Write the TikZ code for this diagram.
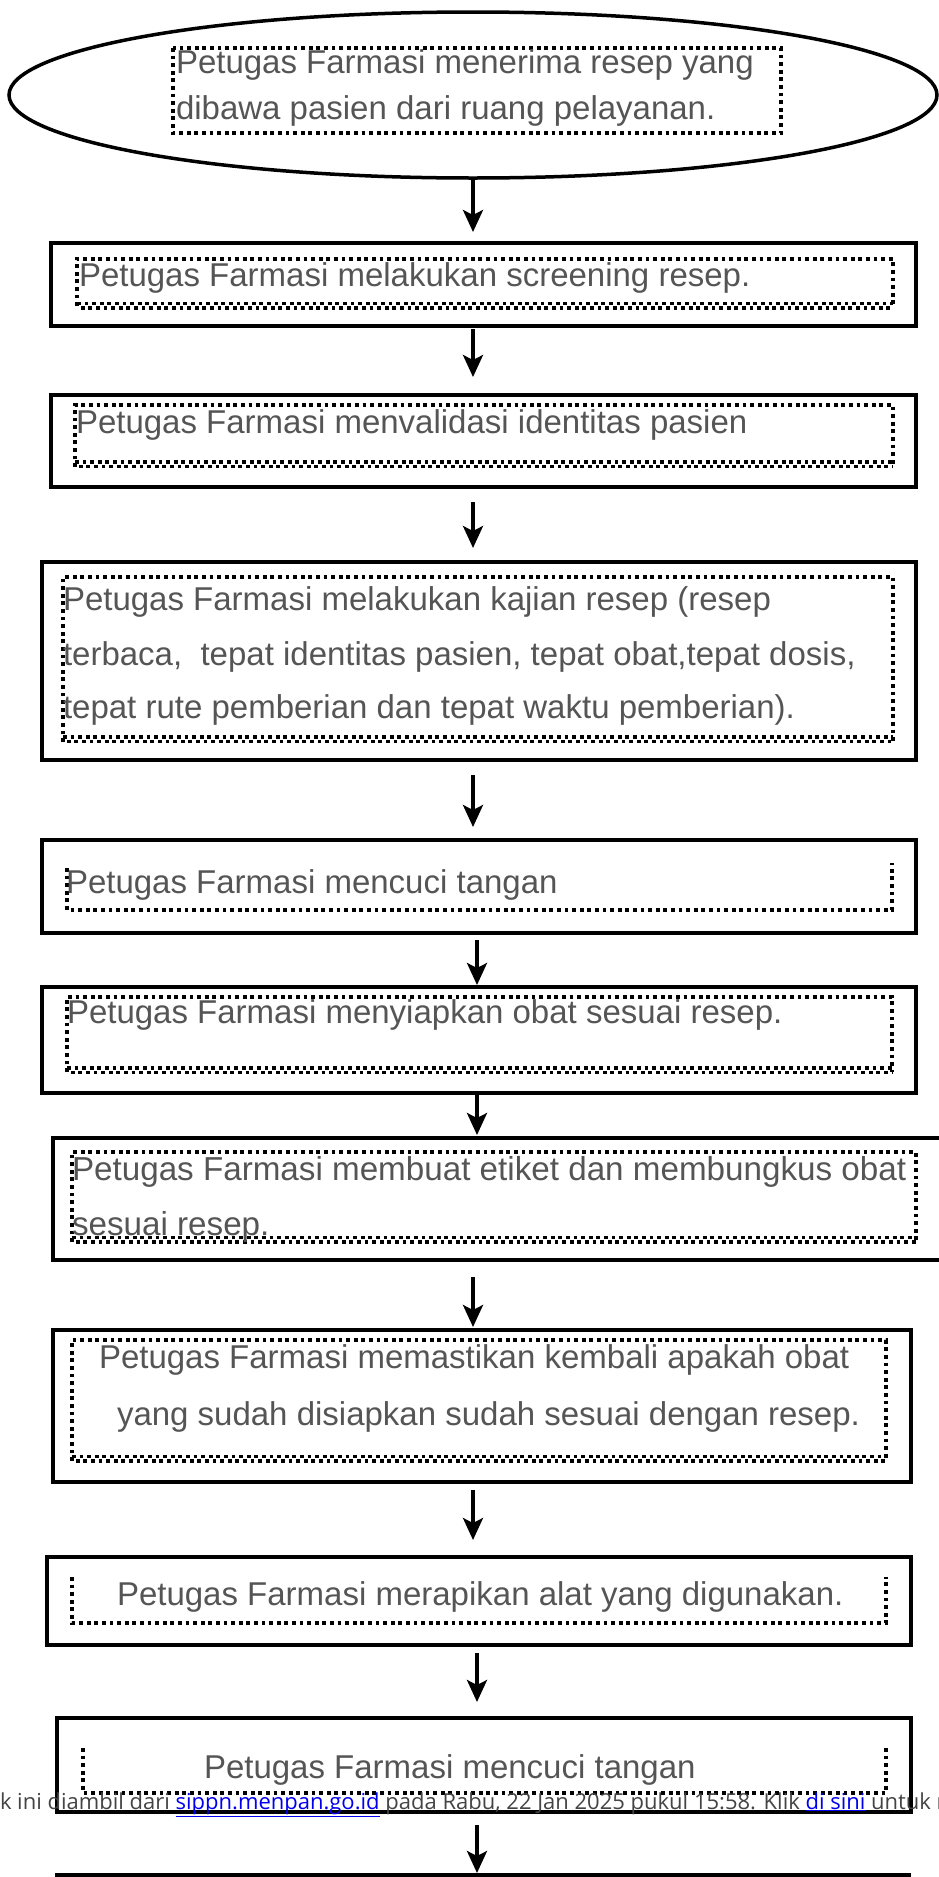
\documentclass[tikz,border=0pt]{standalone}
\usepackage{fontspec}
\setmainfont{Liberation Sans}
\newfontfamily\overlayfont{Open Sans}
\usetikzlibrary{shapes.geometric,arrows.meta}
\definecolor{txtc}{HTML}{555555}
\definecolor{ovl}{HTML}{444444}
\definecolor{lnk}{HTML}{0000EE}
\begin{document}
\begin{tikzpicture}[x=1pt,y=-1pt,
  box/.style={draw, line width=4.5pt, rectangle, inner sep=0pt, outer sep=0pt},
  oval/.style={draw, line width=3.5pt, ellipse, inner sep=0pt, outer sep=0pt},
  dotl/.style={line width=3.8pt, dash pattern=on 3.8pt off 3.8pt},
  dotlb/.style={dotl, dash phase=3.8pt},
  arr/.style={line width=3.5pt, -{Stealth[length=22pt,width=20pt,inset=5pt]}},
  lbl/.style={anchor=base west, inner sep=0pt, outer sep=0pt, text=txtc, font=\fontsize{33}{40}\selectfont},
  lblb/.style={lbl, font=\fontsize{33.2}{40}\selectfont},
]
\useasboundingbox (0,0) rectangle (939,1877);
\clip (0,0) rectangle (939,1877);

% ---- outer shapes
\node[oval, minimum width=928pt, minimum height=166pt] (b1) at (473,95) {};
\node[box, minimum width=865pt, minimum height=83pt]  (b2)  at (483.5,284.5) {};
\node[box, minimum width=865pt, minimum height=92pt]  (b3)  at (483.5,441) {};
\node[box, minimum width=874pt, minimum height=198pt] (b4)  at (479,661) {};
\node[box, minimum width=874pt, minimum height=93pt]  (b5)  at (479,886.5) {};
\node[box, minimum width=874pt, minimum height=106pt] (b6)  at (479,1040) {};
\node[box, minimum width=897pt, minimum height=122pt] (b7)  at (501.5,1199) {};
\node[box, minimum width=858pt, minimum height=152pt] (b8)  at (482,1406) {};
\node[box, minimum width=864pt, minimum height=88pt]  (b9)  at (479,1601) {};
\node[box, minimum width=854pt, minimum height=94pt]  (b10) at (484,1765) {};
\node[box, minimum width=852pt, minimum height=100pt] (b11) at (483,1925) {};

% ---- dotted inner frames
\draw[dotl] (173,48) rectangle (781,133);
\draw[dotl] (77,306) -- (77,259) -- (893,259) -- (893,306);
\draw[dotl] (77,303.5) -- (893,303.5); \draw[dotlb] (77,308) -- (893,308);
\draw[dotl] (75,467) -- (75,405) -- (893,405) -- (893,467);
\draw[dotl] (75,462) -- (893,462); \draw[dotlb] (75,466.5) -- (893,466.5);
\draw[dotl] (63,742) -- (63,577) -- (893,577) -- (893,742);
\draw[dotl] (63,737) -- (893,737); \draw[dotlb] (63,741.5) -- (893,741.5);
\draw[dotl] (67,868) -- (67,910) -- (892,910) -- (892,863);
\draw[dotl] (67,1072) -- (67,997) -- (892,997) -- (892,1072);
\draw[dotl] (67,1068) -- (892,1068); \draw[dotlb] (67,1072.5) -- (892,1072.5);
\draw[dotl] (72,1242) -- (72,1152) -- (916,1152) -- (916,1242);
\draw[dotl] (72,1237.5) -- (916,1237.5); \draw[dotlb] (72,1242) -- (916,1242);
\draw[dotl] (72,1461) -- (72,1340) -- (886,1340) -- (886,1461);
\draw[dotl] (72,1456.5) -- (886,1456.5); \draw[dotlb] (72,1461) -- (886,1461);
\draw[dotl] (72,1577) -- (72,1623) -- (886,1623) -- (886,1577);
\draw[dotl] (83,1748) -- (83,1793) -- (886,1793) -- (886,1748);

% ---- texts
\node[lbl] (t1a) at (176,73)  {Petugas Farmasi menerima resep yang};
\node[lbl] (t1b) at (176,119) {dibawa pasien dari ruang pelayanan.};
\node[lbl] (t2)  at (79,286)  {Petugas Farmasi melakukan screening resep.};
\node[lbl] (t3)  at (76,433)  {Petugas Farmasi menvalidasi identitas pasien};
\node[lbl] (t4a) at (63,610)  {Petugas Farmasi melakukan kajian resep (resep};
\node[lbl] (t4b) at (63,665)  {terbaca,\ \ tepat identitas pasien, tepat obat,tepat dosis,};
\node[lbl] (t4c) at (63,718)  {tepat rute pemberian dan tepat waktu pemberian).};
\node[lbl] (t5)  at (66,893)  {Petugas Farmasi mencuci tangan};
\node[lbl] (t6)  at (67,1023) {Petugas Farmasi menyiapkan obat sesuai resep.};
\node[lblb] (t7a) at (72,1180) {Petugas Farmasi membuat etiket dan membungkus obat};
\node[lblb] (t7b) at (72,1235) {sesuai resep.};
\node[lbl] (t8a) at (99,1368)  {Petugas Farmasi memastikan kembali apakah obat};
\node[lbl] (t8b) at (117,1425) {yang sudah disiapkan sudah sesuai dengan resep.};
\node[lbl] (t9)  at (117,1605) {Petugas Farmasi merapikan alat yang digunakan.};
\node[lbl] (t10) at (204,1778) {Petugas Farmasi mencuci tangan};

% ---- arrow tips
\coordinate (e1) at (473,232);
\coordinate (e2) at (473,377);
\coordinate (e3) at (473,548);
\coordinate (e4) at (473,827);
\coordinate (e5) at (477,985);
\coordinate (e6) at (477,1135);
\coordinate (e7) at (473,1327);
\coordinate (e8) at (473,1540);
\coordinate (e9) at (477,1702);
\coordinate (e10) at (477,1873);

\draw[arr, shorten <=1pt]  (e1 |- b1.south) -- (e1);
\draw[arr, shorten <=3pt]  (e2 |- b2.south) -- (e2);
\draw[arr, shorten <=15pt] (e3 |- b3.south) -- (e3);
\draw[arr, shorten <=15pt] (e4 |- b4.south) -- (e4);
\draw[arr, shorten <=7pt]  (e5 |- b5.south) -- (e5);
\draw[arr]                 (e6 |- b6.south) -- (e6);
\draw[arr, shorten <=17pt] (e7 |- b7.south) -- (e7);
\draw[arr, shorten <=8pt]  (e8 |- b8.south) -- (e8);
\draw[arr, shorten <=8pt]  (e9 |- b9.south) -- (e9);
\draw[arr, shorten <=13pt] (e10 |- b10.south) -- (e10);

% ---- overlay notice (cut at both edges, as in the reference)
\node[anchor=base west, inner sep=0pt, outer sep=0pt, text=ovl,
      font=\overlayfont\fontsize{22}{26}\selectfont] (ov) at (0,1809)
  {k ini diambil dari \textcolor{lnk}{\underline{sippn.menpan.go.id}} pada Rabu, 22 Jan 2025 pukul 15:58. Klik \textcolor{lnk}{\underline{di sini}} untuk m};
\end{tikzpicture}
\end{document}
